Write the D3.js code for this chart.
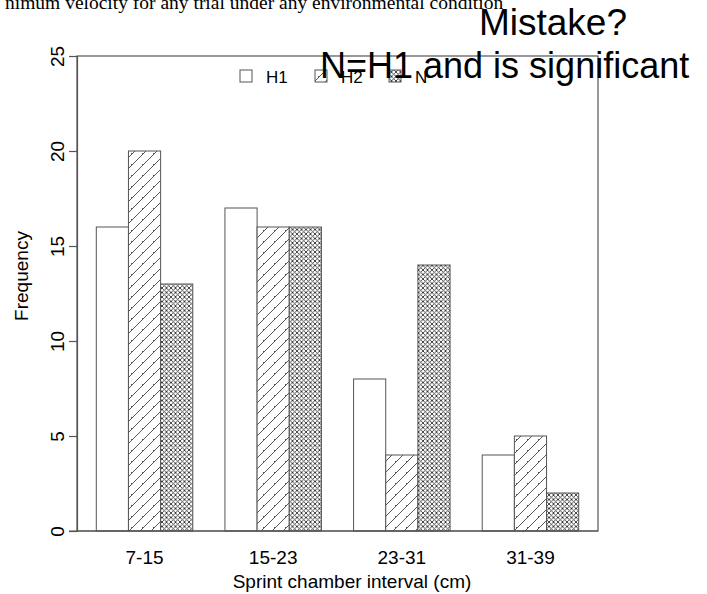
<!DOCTYPE html>
<html>
<head>
<meta charset="utf-8">
<script src="https://cdn.jsdelivr.net/npm/d3@7"></script>
<style>
  body { margin: 0; background: #fff; }
  svg { display: block; }
</style>
</head>
<body>
<div id="chart"></div>
<script>
// data
const categories = ["7-15", "15-23", "23-31", "31-39"];
const seriesNames = ["H1", "H2", "N"];
const h1 = [16, 17, 8, 4];
const h2 = [20, 16, 4, 5];
const n = [13, 16, 14, 2];
const yTicks = [0, 5, 10, 15, 20, 25];

const width = 707, height = 594;
const box = { left: 77, right: 598, top: 56, bottom: 531 };
const fills = ["#fff", "url(#hatch)", "url(#cross)"];
const stroke = "#555";
const sans = "Liberation Sans, Arial, Helvetica, sans-serif";

const svg = d3.select("#chart").append("svg")
    .attr("width", width)
    .attr("height", height)
    .attr("font-family", sans);

// patterns like R's density/angle shading
const defs = svg.append("defs");
const hatch = defs.append("pattern")
    .attr("id", "hatch")
    .attr("patternUnits", "userSpaceOnUse")
    .attr("width", 11).attr("height", 11);
hatch.append("rect").attr("width", 11).attr("height", 11).attr("fill", "#fff");
hatch.append("path")
    .attr("d", "M-1,12 L12,-1 M-6,6 L6,-6 M5,16 L16,5")
    .attr("stroke", "#444").attr("stroke-width", 0.9);

const cross = defs.append("pattern")
    .attr("id", "cross")
    .attr("patternUnits", "userSpaceOnUse")
    .attr("width", 4.5).attr("height", 4.5);
cross.append("rect").attr("width", 4.5).attr("height", 4.5).attr("fill", "#fff");
cross.append("path")
    .attr("d", "M0,4.5 L4.5,0 M0,0 L4.5,4.5 M-1,1 L1,-1 M3.5,5.5 L5.5,3.5 M-1,3.5 L1,5.5 M3.5,-1 L5.5,1")
    .attr("stroke", "#333").attr("stroke-width", 0.9);

// R barplot beside=TRUE, space=c(0,1): bars at units 1..16, 4% padding
const x = d3.scaleLinear().domain([0.4, 16.6]).range([box.left, box.right]);
const y = d3.scaleLinear().domain([0, 25]).range([box.bottom, box.top]);

const rows = [];
categories.forEach((c, i) => {
    [h1, h2, n].forEach((s, j) => {
        rows.push({ cat: c, series: j, value: s[i], x0: 1 + i * 4 + j });
    });
});

svg.append("g").selectAll("rect")
    .data(rows)
    .enter().append("rect")
    .attr("x", d => x(d.x0))
    .attr("width", d => x(d.x0 + 1) - x(d.x0))
    .attr("y", d => y(d.value))
    .attr("height", d => y(0) - y(d.value))
    .attr("fill", d => fills[d.series])
    .attr("stroke", stroke)
    .attr("stroke-width", 1);

// box
svg.append("rect")
    .attr("x", box.left).attr("y", box.top)
    .attr("width", box.right - box.left)
    .attr("height", box.bottom - box.top)
    .attr("fill", "none")
    .attr("stroke", stroke)
    .attr("stroke-width", 1.2);

// y axis
const yAxis = svg.append("g")
    .attr("transform", `translate(${box.left},0)`)
    .call(d3.axisLeft(y).tickValues(yTicks).tickSize(8).tickFormat(d3.format("d")));
yAxis.select(".domain").attr("stroke", stroke).attr("stroke-width", 1.2);
yAxis.selectAll(".tick line").attr("stroke", stroke).attr("stroke-width", 1.2);
yAxis.selectAll(".tick text")
    .attr("x", null).attr("dy", null)
    .attr("transform", "translate(-13,0) rotate(-90)")
    .attr("text-anchor", "middle")
    .attr("font-size", 19)
    .attr("font-family", sans)
    .attr("fill", "#000");

// bottom axis line and category labels
const groupCenter = d3.scaleOrdinal().domain(categories).range(categories.map((c, i) => x(1 + i * 4 + 1.5)));
svg.append("line")
    .attr("x1", box.left - 8).attr("x2", box.right)
    .attr("y1", box.bottom).attr("y2", box.bottom)
    .attr("stroke", stroke).attr("stroke-width", 1.2);
svg.append("g").selectAll("text")
    .data(categories)
    .enter().append("text")
    .attr("x", d => groupCenter(d))
    .attr("y", 564)
    .attr("text-anchor", "middle")
    .attr("font-size", 19)
    .text(d => d);

svg.append("text")
    .attr("x", 352)
    .attr("y", 588)
    .attr("text-anchor", "middle")
    .attr("font-size", 19)
    .text("Sprint chamber interval (cm)");

svg.append("text")
    .attr("transform", "translate(28,276) rotate(-90)")
    .attr("text-anchor", "middle")
    .attr("font-size", 19)
    .text("Frequency");

// legend
const legendX = [240, 315, 389];
const lg = svg.append("g");
seriesNames.forEach((name, j) => {
    lg.append("rect")
        .attr("x", legendX[j]).attr("y", 70)
        .attr("width", 12).attr("height", 12)
        .attr("fill", fills[j])
        .attr("stroke", stroke).attr("stroke-width", 1);
    lg.append("text")
        .attr("x", legendX[j] + 26).attr("y", 83)
        .attr("font-size", 17)
        .text(name);
});

// annotations
svg.append("text")
    .attr("x", 5).attr("y", 9)
    .attr("font-family", "Liberation Serif, Times New Roman, serif")
    .attr("font-size", 19.5)
    .text("nimum velocity for any trial under any environmental condition");

svg.append("text")
    .attr("x", 553).attr("y", 35)
    .attr("text-anchor", "middle")
    .attr("font-size", 37)
    .text("Mistake?");

svg.append("text")
    .attr("x", 320).attr("y", 78)
    .attr("font-size", 36)
    .text("N=H1 and is significant");
</script>
</body>
</html>
